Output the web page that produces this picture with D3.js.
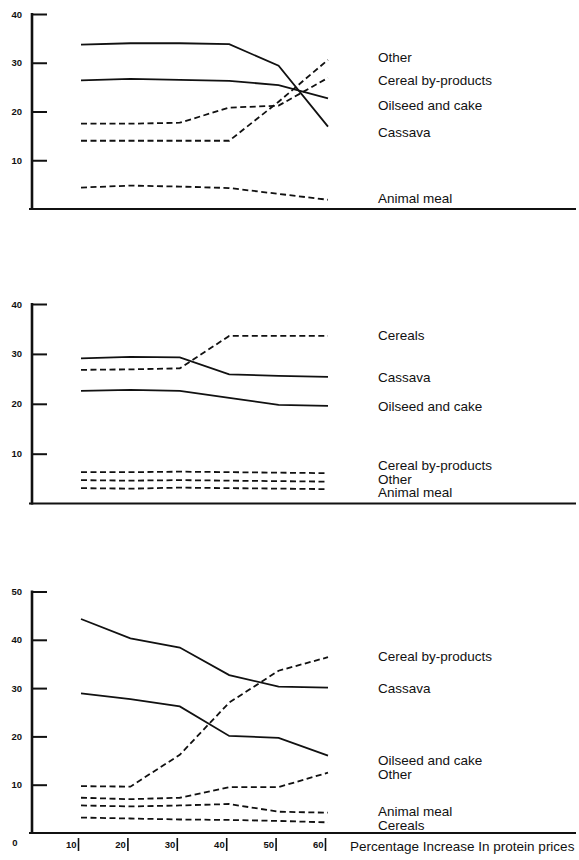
<!DOCTYPE html>
<html><head><meta charset="utf-8">
<script src="https://cdn.jsdelivr.net/npm/d3@7"></script>
<style>
html,body{margin:0;padding:0;background:#fff;}
svg{display:block;}
text{font-family:"Liberation Sans",Arial,sans-serif;fill:#111;}
</style></head>
<body>
<svg id="chart" width="579" height="860"></svg>
<script>
// ---------- data ----------
const pct = [10, 20, 30, 40, 50, 60];
const xTickLabels = ["10", "20", "30", "40", "50", "60"];
const xTitle = "Percentage Increase In protein prices";

// Panel 1
const p1Names  = ["Other", "Cereal by-products", "Oilseed and cake", "Cassava", "Animal meal"];
const p1Other    = [14.0, 14.0, 14.0, 14.0, 22.0, 30.6];
const p1CerealBy = [17.5, 17.5, 17.7, 20.8, 21.2, 26.9];
const p1Oilseed  = [26.4, 26.7, 26.5, 26.3, 25.4, 22.7];
const p1Cassava  = [33.7, 34.0, 34.0, 33.8, 29.4, 16.9];
const p1Animal   = [4.4, 4.8, 4.6, 4.3, 3.1, 1.9];
const p1LabelAt  = [31.2, 26.5, 21.2, 15.8, 2.3];
const p1Ticks = [10, 20, 30, 40];

// Panel 2
const p2Names  = ["Cereals", "Cassava", "Oilseed and cake", "Cereal by-products", "Other", "Animal meal"];
const p2Cereals  = [26.8, 26.9, 27.1, 33.6, 33.6, 33.6];
const p2Cassava  = [29.1, 29.4, 29.3, 25.9, 25.6, 25.4];
const p2Oilseed  = [22.6, 22.8, 22.6, 21.2, 19.8, 19.6];
const p2CerealBy = [6.3, 6.3, 6.4, 6.3, 6.2, 6.1];
const p2Other    = [4.7, 4.6, 4.7, 4.6, 4.5, 4.4];
const p2Animal   = [3.1, 3.0, 3.2, 3.1, 3.0, 2.9];
const p2LabelAt  = [33.8, 25.4, 19.5, 7.6, 4.9, 2.2];
const p2Ticks = [10, 20, 30, 40];

// Panel 3
const p3Names  = ["Cereal by-products", "Cassava", "Oilseed and cake", "Other", "Animal meal", "Cereals"];
const p3CerealBy = [9.7, 9.6, 16.2, 27.0, 33.6, 36.4];
const p3Cassava  = [44.3, 40.3, 38.4, 32.7, 30.3, 30.1];
const p3Oilseed  = [28.9, 27.7, 26.2, 20.1, 19.7, 16.0];
const p3Other    = [7.3, 7.0, 7.3, 9.5, 9.5, 12.5];
const p3Animal   = [5.7, 5.5, 5.7, 6.0, 4.4, 4.2];
const p3Cereals  = [3.2, 3.0, 2.8, 2.7, 2.5, 2.2];
const p3LabelAt  = [36.6, 30.0, 15.0, 12.2, 4.6, 1.5];
const p3Ticks = [10, 20, 30, 40, 50];

// ---------- drawing ----------
const svg = d3.select("#chart");
svg.append("rect").attr("width", 579).attr("height", 860).attr("fill", "#fff");

const x = d3.scaleLinear().domain([10, 60]).range([81, 328]);
const AXIS_X = 32;
const LABEL_X = 378;

function panel(cfg) {
  const y = d3.scaleLinear().domain(cfg.domain).range(cfg.range);
  const g = svg.append("g");
  const topVal = cfg.ticks[cfg.ticks.length - 1];

  const ax = g.append("g").attr("transform", `translate(${AXIS_X},0)`)
    .call(d3.axisLeft(y).tickValues(cfg.ticks).tickSizeInner(-15).tickSizeOuter(0).tickPadding(10));
  ax.select(".domain").remove();
  ax.selectAll(".tick line").attr("stroke", "#111").attr("stroke-width", 2);
  ax.selectAll(".tick text")
    .attr("font-size", 9.5).attr("font-weight", "bold").attr("fill", "#111")
    .attr("font-family", "'DejaVu Sans', sans-serif");

  g.append("line").attr("x1", AXIS_X).attr("x2", AXIS_X)
    .attr("y1", y(topVal) - 1).attr("y2", y(0) + 1)
    .attr("stroke", "#111").attr("stroke-width", 2.6);
  g.append("line").attr("x1", AXIS_X - 3).attr("x2", 576)
    .attr("y1", y(0)).attr("y2", y(0))
    .attr("stroke", "#111").attr("stroke-width", 2);

  const line = d3.line().x((d, i) => x(pct[i])).y(d => y(d));
  cfg.series.forEach(s => {
    g.append("path").datum(s.values)
      .attr("d", line).attr("fill", "none")
      .attr("stroke", "#111").attr("stroke-width", 1.8)
      .attr("stroke-dasharray", s.dashed ? "6,3.5" : null);
  });

  cfg.names.forEach((n, i) => {
    g.append("text").attr("x", LABEL_X).attr("y", y(cfg.labelAt[i]))
      .attr("dy", "0.35em").attr("font-size", 13.5).text(n);
  });
  return { g, y };
}

panel({
  domain: [0, 40], range: [209, 14], ticks: p1Ticks,
  names: p1Names, labelAt: p1LabelAt,
  series: [
    { values: p1Other, dashed: true },
    { values: p1CerealBy, dashed: true },
    { values: p1Oilseed, dashed: false },
    { values: p1Cassava, dashed: false },
    { values: p1Animal, dashed: true }
  ]
});

panel({
  domain: [0, 40], range: [503.6, 304], ticks: p2Ticks,
  names: p2Names, labelAt: p2LabelAt,
  series: [
    { values: p2Cereals, dashed: true },
    { values: p2Cassava, dashed: false },
    { values: p2Oilseed, dashed: false },
    { values: p2CerealBy, dashed: true },
    { values: p2Other, dashed: true },
    { values: p2Animal, dashed: true }
  ]
});

const p3 = panel({
  domain: [0, 50], range: [833, 591.5], ticks: p3Ticks,
  names: p3Names, labelAt: p3LabelAt,
  series: [
    { values: p3CerealBy, dashed: true },
    { values: p3Cassava, dashed: false },
    { values: p3Oilseed, dashed: false },
    { values: p3Other, dashed: true },
    { values: p3Animal, dashed: true },
    { values: p3Cereals, dashed: true }
  ]
});

p3.g.append("text").attr("x", 15).attr("y", p3.y(0) + 10).attr("dy", "0.35em")
  .attr("text-anchor", "middle").attr("font-size", 9.5).attr("font-weight", "bold")
  .attr("font-family", "'DejaVu Sans', sans-serif").text("0");

const xa = svg.append("g").attr("transform", `translate(-3,${p3.y(0) + 5})`)
  .call(d3.axisBottom(x).tickValues(pct).tickFormat((d, i) => xTickLabels[i]).tickSizeInner(13).tickSizeOuter(0).tickPadding(0));
xa.select(".domain").remove();
xa.selectAll(".tick line").attr("stroke", "#111").attr("stroke-width", 1.6);
xa.selectAll(".tick text")
  .attr("text-anchor", "end").attr("x", -2).attr("y", 7).attr("dy", "0.35em")
  .attr("font-size", 9.5).attr("font-weight", "bold").attr("fill", "#111")
  .attr("font-family", "'DejaVu Sans', sans-serif");

svg.append("text").attr("x", 350).attr("y", p3.y(0) + 13).attr("dy", "0.35em")
  .attr("font-size", 13.5).text(xTitle);
</script>
</body></html>
